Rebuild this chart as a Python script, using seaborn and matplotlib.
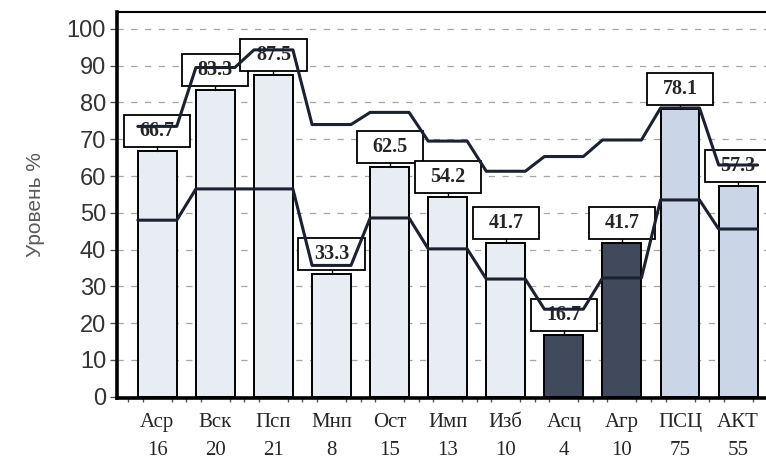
import numpy as np
import pandas as pd
import seaborn as sns
import matplotlib.pyplot as plt
from matplotlib.patches import Rectangle
from matplotlib.ticker import MultipleLocator

# data
categories = ["Аср", "Вск", "Псп", "Мнп", "Ост", "Имп", "Изб", "Асц", "Агр", "ПСЦ", "АКТ"]
counts = [16, 20, 21, 8, 15, 13, 10, 4, 10, 75, 55]
values = [66.7, 83.3, 87.5, 33.3, 62.5, 54.2, 41.7, 16.7, 41.7, 78.1, 57.3]
upper = [73.5, 89.5, 94.3, 74.0, 77.3, 69.5, 61.3, 65.3, 69.8, 78.5, 63.0]
lower = [48.0, 56.5, 56.5, 35.7, 48.6, 40.2, 32.0, 23.8, 32.3, 53.5, 45.6]
bar_colors = ["#e8ecf3"] * 7 + ["#414a5d", "#414a5d"] + ["#cad6e7", "#cad6e7"]

sns.set_style("white")
plt.rcParams["font.family"] = ["Liberation Sans", "DejaVu Sans"]

df = pd.DataFrame({"cat": categories, "val": values})
bw = 0.67

fig = plt.figure(figsize=(7.66, 4.61), dpi=100)
ax = fig.add_axes([0.153, 0.137, 0.847, 0.837])

sns.barplot(data=df, x="cat", y="val", hue="cat", palette=bar_colors, legend=False,
            width=bw, edgecolor="black", linewidth=1.4, saturation=1, ax=ax, zorder=2)

# step-like norm lines: flat over each bar, sloped in gaps
pos = np.arange(len(categories))
xs = np.column_stack([pos - bw / 2, pos + bw / 2]).ravel()
for band in (upper, lower):
    ys = np.repeat(band, 2)
    sns.lineplot(x=xs, y=ys, sort=False, estimator=None, color="#1c2130",
                 linewidth=2.2, ax=ax, zorder=5)

# value boxes
box_w, box_h, gap = 1.14, 8.7, 1.1
for i, v in enumerate(values):
    ax.plot([i, i], [v, v + gap], color="black", lw=1, zorder=3)
    ax.add_patch(Rectangle((i - box_w / 2, v + gap), box_w, box_h, facecolor="white",
                           edgecolor="black", lw=1.3, zorder=4))
    ax.text(i, v + gap + box_h / 2, f"{v:.1f}", ha="center", va="center",
            fontsize=14.5, fontweight="bold", family="Liberation Serif", zorder=4.5)

ax.set_xlim(-0.69, 10.48)
ax.set_ylim(-0.3, 104.6)
ax.set_yticks(range(0, 101, 10))
ax.set_xticks(pos)
ax.set_xticklabels([f"{c}\n{n}" for c, n in zip(categories, counts)],
                   family="Liberation Serif", fontsize=15, linespacing=1.6)
ax.xaxis.set_minor_locator(MultipleLocator(0.25))
ax.tick_params(axis="x", which="major", length=5, width=1, color="#555555", pad=6)
ax.tick_params(axis="x", which="minor", length=3, width=1, color="#555555", bottom=True)
ax.tick_params(axis="y", length=5, width=1, color="#555555", labelsize=17,
               labelcolor="#333333", pad=3, left=True)
ax.set_xlabel("")
ax.set_ylabel("Уровень %", fontsize=15, color="#5a5a5a")
ax.yaxis.set_label_coords(-0.126, 0.5)
ax.yaxis.label.set_va("center")

ax.grid(axis="y", linestyle=(0, (5, 6)), color="#a5a5a5", linewidth=0.9, zorder=0)
ax.set_axisbelow(True)
ax.spines["left"].set_linewidth(2.6)
ax.spines["bottom"].set_linewidth(2.6)
ax.spines["top"].set_linewidth(1.5)
ax.spines["right"].set_visible(False)
for s in ("left", "bottom", "top"):
    ax.spines[s].set_color("black")

fig.savefig("out.png", dpi=100)
